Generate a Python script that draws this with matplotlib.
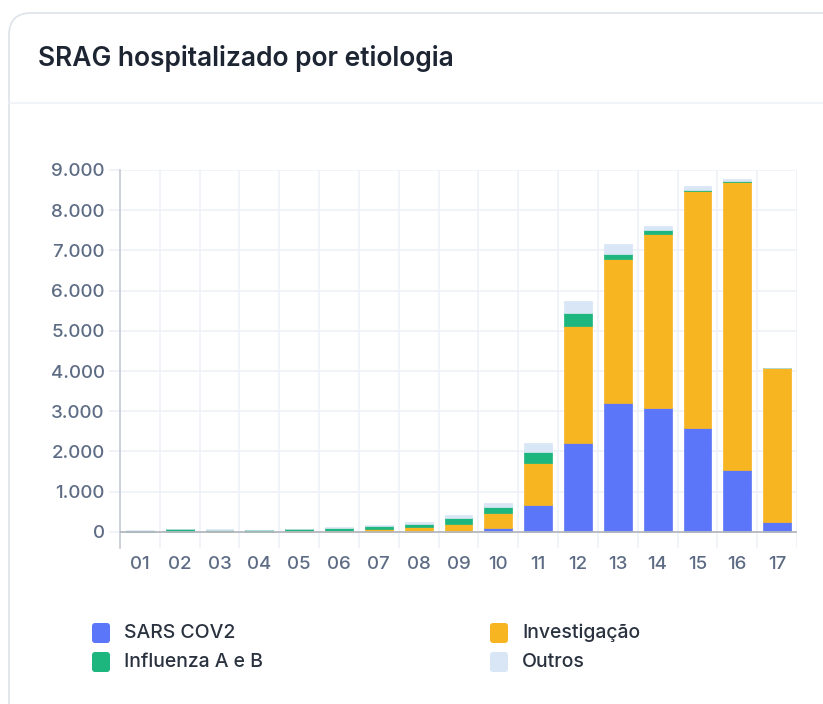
import numpy as np
import matplotlib
matplotlib.use('Agg')
import matplotlib.pyplot as plt
from matplotlib.patches import FancyBboxPatch
from matplotlib.ticker import FuncFormatter

plt.rcParams['font.family'] = ['Inter', 'DejaVu Sans']

# Semanas epidemiológicas
semanas = ['01', '02', '03', '04', '05', '06', '07', '08', '09', '10',
           '11', '12', '13', '14', '15', '16', '17']

# Casos por etiologia
sars_cov2 = [0, 0, 0, 0, 0, 0, 0, 0, 0, 100, 660, 2220, 3200, 3080, 2590, 1550, 250]
investigacao = [5, 10, 20, 10, 15, 30, 65, 125, 185, 380, 1065, 2910, 3590, 4340, 5885, 7155, 3815]
influenza = [30, 55, 40, 40, 50, 75, 75, 80, 150, 130, 265, 310, 130, 80, 20, 15, 0]
outros = [5, 10, 10, 5, 10, 10, 35, 45, 95, 110, 230, 310, 250, 100, 95, 55, 5]

series = [('SARS COV2', sars_cov2, '#5b76f8'),
          ('Investigação', investigacao, '#f8b522'),
          ('Influenza A e B', influenza, '#1db67e'),
          ('Outros', outros, '#d8e6f6')]

W, H = 823, 704
fig = plt.figure(figsize=(W / 100, H / 100), dpi=100)
fig.patch.set_facecolor('white')

# card de fundo
bg = fig.add_axes([0, 0, 1, 1], zorder=0)
bg.set_xlim(0, W)
bg.set_ylim(H, 0)
bg.axis('off')
bg.add_patch(FancyBboxPatch((9, 13), W + 40, H + 40, boxstyle='round,pad=0,rounding_size=22',
                            fc='white', ec='#dde3ea', lw=1.2))
bg.plot([9, W], [103, 103], color='#edf1f6', lw=1.2)
bg.text(38, 58, 'SRAG hospitalizado por etiologia', fontsize=19, fontweight='semibold',
        color='#1d2533', va='center', ha='left')

# gráfico
ax = fig.add_axes([120 / W, 1 - 548 / H, 677 / W, 378 / H], zorder=1)
ax.set_facecolor('none')
x = np.arange(len(semanas))
bottom = np.zeros(len(semanas))
for nome, vals, cor in series:
    ax.bar(x, vals, width=0.7, bottom=bottom, color=cor, edgecolor=cor, lw=0.5, zorder=3)
    bottom += np.array(vals)

ax.set_xlim(-0.5, len(semanas) - 0.5)
ax.set_ylim(-400, 9000)
ax.set_yticks(range(0, 9001, 1000))
ax.yaxis.set_major_formatter(FuncFormatter(lambda v, p: f'{int(v):,}'.replace(',', '.')))
ax.set_xticks(x)
ax.set_xticklabels(semanas)
ax.set_xticks(np.arange(-0.5, len(semanas)), minor=True)

ax.grid(False)
ax.yaxis.grid(True, color='#eef2f8', lw=1.2, zorder=0)
ax.xaxis.grid(True, which='minor', color='#eef2f8', lw=1.2, zorder=0)
ax.axhline(0, color='#b5b9bf', lw=1.3, zorder=4)

for s in ['top', 'right', 'bottom']:
    ax.spines[s].set_visible(False)
ax.spines['left'].set_color('#c9ced6')
ax.spines['left'].set_linewidth(1.3)

ax.tick_params(axis='y', which='major', length=8, width=1.2, color='#eef2f8',
               labelsize=13.5, labelcolor='#5d6c84', pad=3)
ax.tick_params(axis='x', which='major', length=0, labelsize=13.5, labelcolor='#5d6c84', pad=6)
ax.tick_params(axis='x', which='minor', length=0)
for lab in ax.get_xticklabels() + ax.get_yticklabels():
    lab.set_fontweight('medium')

# legenda
leg = [(92, 633, 'SARS COV2', '#5b76f8'), (490, 633, 'Investigação', '#f8b522'),
       (92, 662, 'Influenza A e B', '#1db67e'), (490, 662, 'Outros', '#d8e6f6')]
for lx, ly, nome, cor in leg:
    bg.add_patch(FancyBboxPatch((lx, ly - 10), 18, 20, boxstyle='round,pad=0,rounding_size=3',
                                fc=cor, ec='none', zorder=2))
    bg.text(lx + 32, ly, nome, fontsize=14, fontweight='medium', color='#2a3240',
            va='center', ha='left')

fig.savefig('out.png', dpi=100)
